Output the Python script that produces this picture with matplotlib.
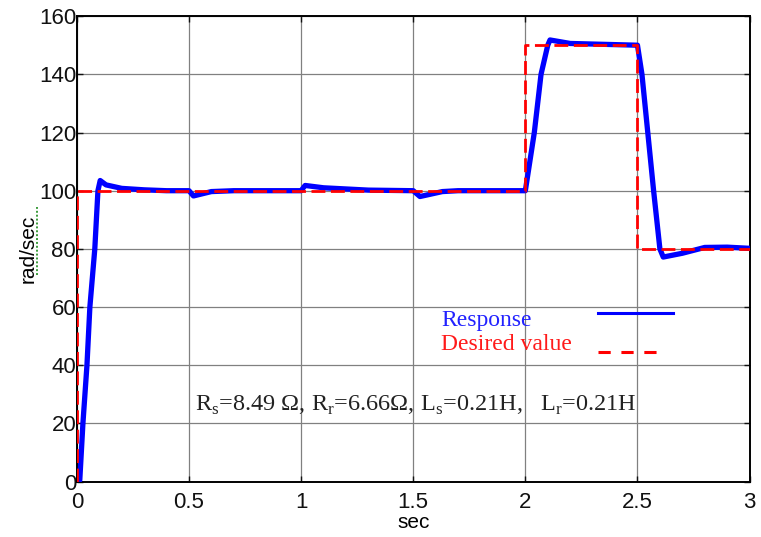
import matplotlib
matplotlib.use("Agg")
import matplotlib.pyplot as plt
from matplotlib.lines import Line2D

# speed response
t_resp = [0, 0.013, 0.027, 0.045, 0.058, 0.08, 0.094, 0.104, 0.13, 0.2, 0.3, 0.4,
          0.5, 0.52, 0.6, 0.7, 1.0, 1.018, 1.1, 1.2, 1.3, 1.5, 1.53, 1.63, 1.7,
          2.0, 2.04, 2.07, 2.1, 2.11, 2.2, 2.5, 2.52, 2.546, 2.572, 2.6, 2.615,
          2.7, 2.8, 2.9, 3.0]
w_resp = [0, 0.5, 20, 40, 60, 80, 100, 103.5, 102, 100.8, 100.3, 100,
          100, 98.2, 99.7, 100, 100, 101.8, 101, 100.6, 100.2, 100, 98, 99.7, 100,
          100, 120, 140, 150, 151.8, 150.6, 150, 140, 120, 100, 80, 77.2,
          78.5, 80.5, 80.6, 80.2]

# reference speed
t_ref = [0, 0, 2, 2, 2.5, 2.5, 3]
w_ref = [0, 100, 100, 150, 150, 80, 80]

x_ticks = [0, 0.5, 1, 1.5, 2, 2.5, 3]
x_labels = ['0', '0.5', '1', '1.5', '2', '2.5', '3']
y_ticks = [0, 20, 40, 60, 80, 100, 120, 140, 160]

legend_labels = ['Response', 'Desired value']
param_text = (r'R$_{\rm s}$=8.49 Ω, R$_{\rm r}$=6.66Ω, L$_{\rm s}$=0.21H,   '
              r'L$_{\rm r}$=0.21H')

plt.rcParams['font.family'] = ['Liberation Sans', 'DejaVu Sans']
plt.rcParams['mathtext.fontset'] = 'custom'
plt.rcParams['mathtext.rm'] = 'Liberation Serif'

fig = plt.figure(figsize=(7.61, 5.37), dpi=100)
ax = fig.add_axes([0.101, 0.103, 0.884, 0.867])

ax.plot(t_resp, w_resp, color='#0000ff', lw=3.8, solid_joinstyle='round', zorder=3)
ax.plot(t_ref, w_ref, color='#ff0000', lw=2.0, dashes=(5, 2), zorder=4)

ax.set_xlim(0, 3)
ax.set_ylim(0, 160)
ax.set_xticks(x_ticks)
ax.set_xticklabels(x_labels)
ax.set_yticks(y_ticks)
ax.grid(True, color='#808080', lw=0.9)
ax.set_axisbelow(True)
for s in ax.spines.values():
    s.set_linewidth(1.4)
ax.tick_params(direction='in', length=4, width=1, top=True, right=True,
               labelsize=16, colors='#111111')
ax.tick_params(axis='y', pad=0.5)
ax.tick_params(axis='x', pad=7.5)

ax.set_xlabel('sec', fontsize=15, labelpad=0)
ax.set_ylabel('rad/sec', fontsize=15, labelpad=1)

# spell-check squiggle under the y label, as in the pasted original
fig.add_artist(Line2D([0.048, 0.048], [0.487, 0.615], transform=fig.transFigure,
                      color='#3c9c3c', lw=1.4, ls=(0, (1, 1))))

# legend drawn by hand: text on the left, sample line on the right
serif = ['Liberation Serif', 'DejaVu Serif']
ax.text(0.542, 0.334, legend_labels[0], transform=ax.transAxes, color='#2222ff',
        fontsize=17, family=serif, va='baseline')
ax.text(0.542, 0.2825, legend_labels[1], transform=ax.transAxes, color='#ff1a1a',
        fontsize=17, family=serif, va='baseline')
ax.plot([0.774, 0.886], [0.3626, 0.3626], transform=ax.transAxes,
        color='#0000ff', lw=2.2, zorder=5)
ax.plot([0.774, 0.874], [0.278, 0.278], transform=ax.transAxes,
        color='#ff0000', lw=2.2, dashes=(4, 3.5), zorder=5)

ax.text(0.1753, 0.152, param_text, transform=ax.transAxes, color='#222222',
        fontsize=17.5, family=serif, va='baseline')

fig.savefig('out.png', dpi=100)
